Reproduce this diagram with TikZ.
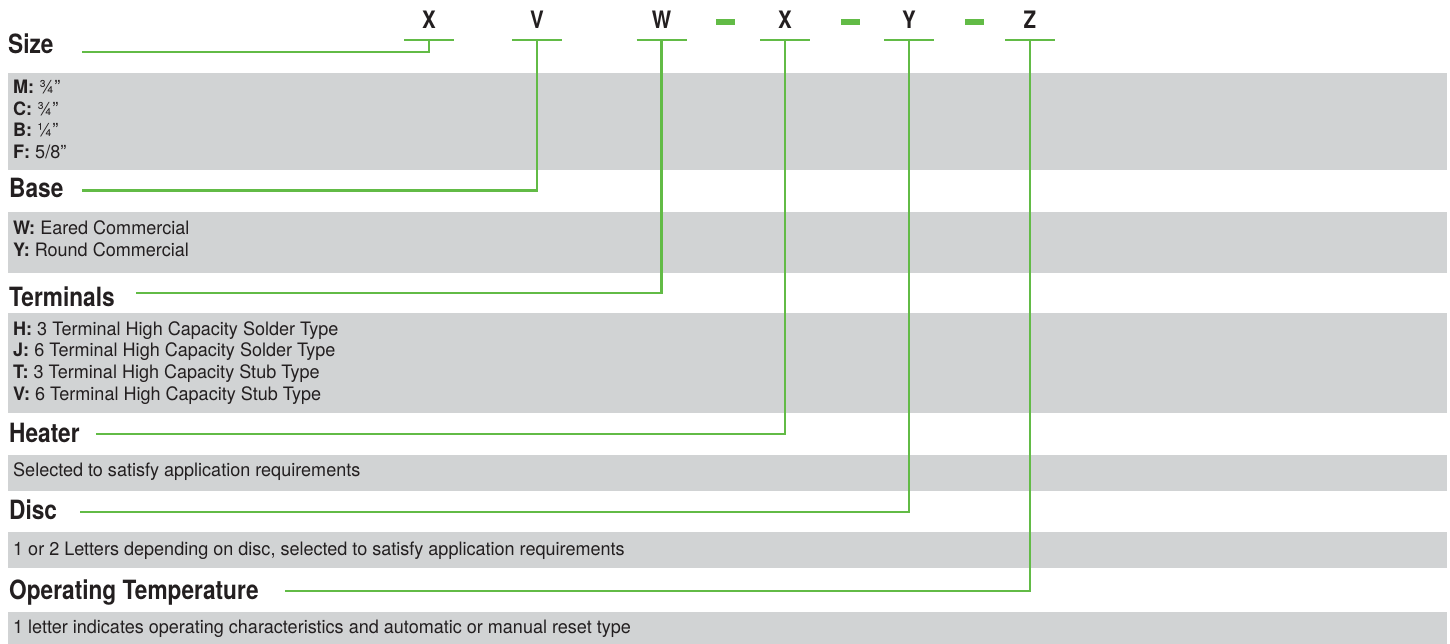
\documentclass[tikz,border=0pt]{standalone}
\usepackage{fontspec}
\setmainfont{TeX Gyre Heros}[FakeStretch=0.975]
\newfontfamily\headfont{TeX Gyre Heros}[FakeStretch=0.855]
\definecolor{codegreen}{RGB}{98,187,70}
\definecolor{boxgray}{RGB}{209,211,212}
\definecolor{inkblack}{RGB}{35,31,32}
\tikzset{
  letter/.style={font=\headfont\fontsize{24}{24}\selectfont\bfseries, text=inkblack, inner sep=0pt, anchor=base},
  heading/.style={font=\headfont\fontsize{26.5}{26.5}\selectfont\bfseries, text=inkblack, inner sep=0pt, anchor=base west},
  entry/.style={font=\fontsize{18.5}{20}\selectfont, text=inkblack, inner sep=0pt, anchor=base west},
  leader/.style={codegreen, line width=2.8pt},
}
\begin{document}
\begin{tikzpicture}[x=1pt,y=-1pt]
        \useasboundingbox (0,0) rectangle (1450,644);

        % Draw the grey bands
        \foreach \top/\bot in {73/170, 212/273, 313/413, 455/491, 532/568, 612/644}
            \fill[boxgray] (8,\top) rectangle (1447,\bot);

        % Code letters and their tees
        \foreach \ch/\x [count=\i] in {X/429, V/537, W/661.5, X/785, Y/909, Z/1030} {
            \node[letter] (code\i) at (\x,29) {\ch};
            \coordinate (tee\i) at (\x,40);
            \draw[leader] ([xshift=-25pt]tee\i) -- ([xshift=25pt]tee\i);
        }
        \foreach \x in {725,850,974}
            \fill[codegreen] (\x-9.5,19) rectangle (\x+9.5,25);

        % Headings
        \node[heading] (size) at (8,54) {Size};
        \node[heading] (base) at (9,198) {Base};
        \node[heading] (terminals) at (9,306) {Terminals};
        \node[heading] (heater) at (9,442) {Heater};
        \node[heading] (disc) at (9,519) {Disc};
        \node[heading] (optemp) at (9,599) {Operating Temperature};

        % Leader lines up to the tees
        \foreach \name/\x/\y/\i in {size/82/52/1, base/82/190.5/2, terminals/136/293/3, heater/96/434/4, disc/80/512/5, optemp/285/591/6} {
            \coordinate (\name-lead) at (\x,\y);
            \draw[leader] (\name-lead) -| (tee\i);
        }

        % Entries
        \foreach \key/\val [count=\i] in {M/{¾''}, C/{¾''}, B/{¼''}, F/{5/8''}}
            \node[entry] (size-\i) at (13,{93.5+(\i-1)*21.7}) {\textbf{\key:} \val};
        \foreach \key/\val [count=\i] in {W/Eared Commercial, Y/Round Commercial}
            \node[entry] (base-\i) at (13,{235+(\i-1)*21.7}) {\textbf{\key:} \val};
        \foreach \key/\val [count=\i] in {H/3 Terminal High Capacity Solder Type, J/6 Terminal High Capacity Solder Type,
                                          T/3 Terminal High Capacity Stub Type, V/6 Terminal High Capacity Stub Type}
            \node[entry] (terminals-\i) at (13,{335+(\i-1)*21.7}) {\textbf{\key:} \val};
        \node[entry] (heater-1) at (13,476) {Selected to satisfy application requirements};
        \node[entry] (disc-1) at (13,555) {1 or 2 Letters depending on disc, selected to satisfy application requirements};
        \node[entry] (optemp-1) at (13,633) {1 letter indicates operating characteristics and automatic or manual reset type};
\end{tikzpicture}
\end{document}
